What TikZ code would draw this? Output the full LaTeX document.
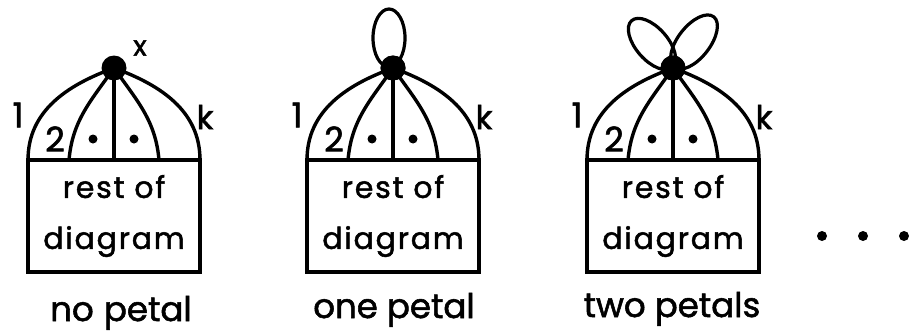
\documentclass[tikz,border=0pt]{standalone}
\usepackage{fontspec}
\setmainfont[FakeBold=1.6]{Poppins}
\newfontfamily\boxfont[FakeBold=1.6, LetterSpace=6]{Poppins}
\begin{document}
\begin{tikzpicture}[x=1pt,y=1pt,line width=3.4pt,
  boxnode/.style={draw, minimum width=172pt, minimum height=112pt, inner sep=0pt,
    outer sep=0pt, align=center, font=\boxfont\fontsize{30}{51}\selectfont},
  hub/.style={circle, fill, inner sep=0pt, minimum size=25pt},
  spot/.style={circle, fill, inner sep=0pt, minimum size=9pt},
  lab/.style={font=\fontsize{34}{34}\selectfont, inner sep=0pt},
  caption/.style={font=\fontsize{34}{34}\selectfont, anchor=base, inner sep=0pt},
  petal/.style={draw, line width=3.2pt}]
\useasboundingbox (0,0) rectangle (909,333);

% three copies of the vertex with k lines running into the rest of the diagram
\foreach \i/\dx in {1/0, 2/279, 3/559}{
  \begin{scope}[xshift=\dx pt]
    \node[boxnode] (box\i) at (114,117) {rest of\\diagram};
    \coordinate (v\i) at (114,265);
    \coordinate (a\i) at (69,173);
    \coordinate (m\i) at (114,173);
    \coordinate (c\i) at (159,173);
    \draw (box\i.north west) to[out=90, in=200] (v\i);
    \draw (box\i.north east) to[out=90, in=-20] (v\i);
    \draw (a\i) to[out=85, in=235] (v\i);
    \draw (c\i) to[out=95, in=-55] (v\i);
    \draw (m\i) -- (v\i);
    \node[hub] (hub\i) at (v\i) {};
    \node[spot] (p\i) at (93,194) {};
    \node[spot] (q\i) at (134,194) {};
    \node[lab] (one\i) at (18,218) {1};
    \node[lab] (two\i) at (55,194) {2};
    \node[lab, font=\fontsize{33}{33}\selectfont] (k\i) at (205,216) {k};
  \end{scope}
}

\node[lab, font=\fontsize{28}{28}\selectfont] (xlab) at (140,285) {x};

% petals
\draw[petal] (389,295) ellipse [x radius=16, y radius=29];
\draw[petal, rotate around={131:(652,289)}] (652,289) ellipse [x radius=31, y radius=16];
\draw[petal, rotate around={52:(694,291)}] (694,291) ellipse [x radius=32, y radius=16];
\node[hub] at (v2) {};
\node[hub] at (v3) {};

% captions
\node[caption] (cap1) at (121,12) {no\hspace{0.3em}petal};
\node[caption] (cap2) at (394,15) {one petal};
\node[caption] (cap3) at (672,16) {two petals};

% trailing dots
\node[spot, minimum size=10pt] (d1) at (822,97) {};
\node[spot, minimum size=10pt] (d2) at (863,97) {};
\node[spot, minimum size=10pt] (d3) at (904,97) {};
\end{tikzpicture}
\end{document}
